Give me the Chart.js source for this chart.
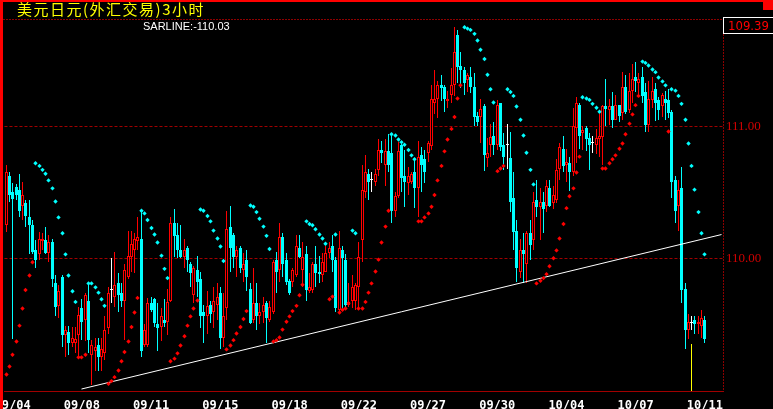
<!DOCTYPE html>
<html>
<head>
<meta charset="utf-8">
<script src="https://cdn.jsdelivr.net/npm/chart.js@4.4.1/dist/chart.umd.min.js"></script>
<style>
  html, body { margin: 0; padding: 0; background: #000; }
  #wrap { position: relative; width: 773px; height: 409px; overflow: hidden; }
  #c { position: absolute; left: 0; top: 0; }
  .lbl { position: absolute; white-space: nowrap; }
  #title { left: 17px; top: 1px; font: 15px/15px "Noto Sans CJK SC"; color: #ffff00; letter-spacing: 1.5px; }
  #sarText { left: 143px; top: 21px; font: 11px/11px "Liberation Sans"; color: #fff; }
  #lastText { left: 728px; top: 19px; font: 13px/13px "Liberation Sans Narrow", "DejaVu Sans Condensed"; color: #ff0000; }
</style>
</head>
<body>
<div id="wrap">
  <canvas id="c" width="773" height="409"></canvas>
  <div class="lbl" id="title">美元日元(外汇交易)3小时</div>
  <div class="lbl" id="sarText"></div>
  <div class="lbl" id="lastText"></div>
</div>
<script>
// tick labels on the time axis and the bar they sit under
const tickDates = ['09/04', '09/08', '09/11', '09/15', '09/18', '09/22', '09/27', '09/30', '10/04', '10/07', '10/11'];
const tickIndex = [2, 23, 44, 65, 86, 107, 128, 149, 170, 191, 212];
const yTicks = [110, 111];
const yMin = 108.995;
const yMax = 111.805;
const slots = 218;

// 3 hour bars, USD/JPY
const open = [
  110.25, 110.62, 110.50, 110.54, 110.52, 110.40, 110.42, 110.31, 110.25, 110.06,
  110.03, 110.13, 110.14, 110.04, 110.12, 109.81, 109.64, 109.86, 109.42, 109.44,
  109.36, 109.36, 109.42, 109.62, 109.53, 109.68, 109.27, 109.30, 109.34, 109.25,
  109.28, 109.47, 109.76, 109.71, 109.81, 109.74, 109.68, 109.86, 110.01, 110.06,
  110.13, 110.15, 109.34, 109.34, 109.66, 109.69, 109.50, 109.48, 109.53, 109.52,
  109.68, 110.27, 110.18, 110.06, 110.01, 110.08, 109.96, 109.72, 109.91, 109.84,
  109.59, 109.56, 109.65, 109.59, 109.65, 109.74, 109.40, 109.62, 110.24, 110.18,
  110.01, 110.08, 109.91, 109.99, 109.77, 109.53, 109.66, 109.56, 109.59, 109.66,
  109.53, 109.59, 109.99, 109.91, 110.16, 109.99, 109.83, 109.82, 109.87, 110.08,
  109.91, 110.03, 109.75, 109.76, 109.96, 109.90, 109.87, 109.90, 110.04, 110.09,
  109.99, 109.61, 110.06, 109.99, 109.65, 109.68, 109.68, 109.78, 110.14, 110.50,
  110.64, 110.59, 110.58, 110.67, 110.82, 110.71, 110.81, 110.80, 110.36, 110.47,
  110.86, 110.62, 110.57, 110.58, 110.65, 110.53, 110.78, 110.75, 110.80, 110.85,
  111.18, 111.21, 111.31, 111.30, 111.19, 111.24, 111.31, 111.69, 111.46, 111.43,
  111.35, 111.37, 111.30, 111.08, 111.07, 111.15, 110.76, 110.86, 110.93, 110.86,
  111.18, 110.86, 110.86, 110.76, 110.46, 110.21, 109.90, 110.06, 109.96, 110.19,
  110.14, 110.44, 110.39, 110.43, 110.40, 110.53, 110.42, 110.44, 110.68, 110.83,
  110.71, 110.72, 110.65, 110.99, 111.16, 110.95, 110.99, 110.91, 110.87, 110.86,
  110.90, 110.92, 111.15, 111.12, 111.15, 111.05, 111.16, 111.10, 111.30, 111.12,
  111.27, 111.37, 111.33, 111.37, 111.26, 111.01, 111.20, 111.28, 111.20, 111.15,
  111.21, 111.20, 111.11, 110.59, 110.40, 110.53, 109.77, 109.46, 109.51, 109.53,
  109.50, 109.49, 109.53
];
const high = [
  110.71, 110.65, 110.57, 110.56, 110.64, 110.58, 110.44, 110.44, 110.29, 110.14,
  110.20, 110.19, 110.24, 110.18, 110.15, 109.87, 109.80, 109.87, 109.49, 109.49,
  109.48, 109.48, 109.63, 109.69, 109.74, 109.82, 109.38, 109.40, 109.40, 109.40,
  109.56, 109.78, 110.00, 110.05, 109.89, 109.81, 109.96, 110.21, 110.21, 110.19,
  110.31, 110.36, 109.50, 109.70, 109.71, 109.70, 109.66, 109.62, 109.69, 109.77,
  110.31, 110.37, 110.27, 110.25, 110.15, 110.09, 109.97, 109.94, 110.02, 109.90,
  109.65, 109.75, 109.68, 109.78, 109.81, 109.78, 109.74, 110.36, 110.40, 110.19,
  110.09, 110.09, 110.04, 110.06, 109.81, 109.93, 109.81, 109.66, 109.71, 109.68,
  109.68, 109.99, 110.05, 110.27, 110.19, 110.04, 109.84, 109.93, 110.18, 110.18,
  110.12, 110.09, 109.89, 109.97, 110.09, 110.02, 110.04, 110.09, 110.12, 110.18,
  110.01, 110.21, 110.09, 110.03, 109.81, 109.87, 109.81, 110.12, 110.71, 110.78,
  110.68, 110.65, 110.68, 110.90, 110.89, 110.90, 110.94, 110.95, 110.50, 110.88,
  110.88, 110.82, 110.69, 110.65, 110.76, 110.89, 110.84, 110.82, 110.89, 111.31,
  111.43, 111.34, 111.39, 111.31, 111.27, 111.44, 111.75, 111.73, 111.56, 111.45,
  111.40, 111.45, 111.40, 111.11, 111.21, 111.17, 110.91, 111.02, 111.03, 111.20,
  111.18, 110.95, 111.02, 110.96, 110.65, 110.29, 110.15, 110.19, 110.21, 110.29,
  110.50, 110.59, 110.53, 110.50, 110.59, 110.59, 110.55, 110.75, 110.87, 110.93,
  110.83, 110.77, 111.14, 111.22, 111.18, 111.00, 111.00, 110.95, 110.93, 110.98,
  111.09, 111.16, 111.36, 111.21, 111.26, 111.24, 111.16, 111.41, 111.39, 111.40,
  111.47, 111.49, 111.40, 111.45, 111.33, 111.34, 111.37, 111.33, 111.22, 111.25,
  111.27, 111.28, 111.12, 110.62, 110.59, 110.69, 109.81, 109.58, 109.56, 109.56,
  109.56, 109.61, 109.56
];
const low = [
  110.20, 110.43, 109.39, 110.44, 110.31, 110.29, 110.24, 110.03, 110.03, 109.93,
  109.99, 110.06, 110.03, 109.97, 109.78, 109.56, 109.55, 109.33, 109.25, 109.27,
  109.33, 109.28, 109.25, 109.38, 109.37, 109.28, 109.04, 109.15, 109.15, 109.15,
  109.23, 109.43, 109.66, 109.63, 109.59, 109.63, 109.38, 109.84, 109.90, 109.89,
  110.06, 109.25, 109.33, 109.33, 109.59, 109.48, 109.30, 109.37, 109.48, 109.42,
  109.67, 110.01, 110.00, 110.00, 109.93, 109.90, 109.78, 109.66, 109.71, 109.47,
  109.36, 109.43, 109.51, 109.47, 109.53, 109.31, 109.33, 109.53, 109.90, 109.93,
  109.86, 109.89, 109.82, 109.75, 109.50, 109.51, 109.46, 109.50, 109.51, 109.36,
  109.52, 109.58, 109.74, 109.82, 109.86, 109.80, 109.72, 109.78, 109.86, 110.00,
  109.78, 109.68, 109.74, 109.74, 109.78, 109.81, 109.82, 109.90, 110.00, 109.90,
  109.59, 109.59, 109.61, 109.63, 109.63, 109.62, 109.61, 109.62, 109.97, 110.46,
  110.44, 110.50, 110.55, 110.62, 110.72, 110.55, 110.65, 110.27, 110.31, 110.46,
  110.50, 110.39, 110.48, 110.56, 110.38, 110.31, 110.50, 110.57, 110.73, 110.82,
  111.09, 111.06, 111.19, 111.11, 111.14, 111.18, 111.23, 111.33, 111.29, 111.24,
  111.26, 111.25, 111.00, 111.00, 110.87, 110.66, 110.69, 110.77, 110.78, 110.82,
  110.81, 110.67, 110.68, 110.35, 110.06, 109.82, 109.85, 109.81, 109.81, 109.99,
  110.06, 110.31, 110.14, 110.19, 110.35, 110.39, 110.37, 110.42, 110.59, 110.65,
  110.58, 110.51, 110.62, 110.72, 110.83, 110.82, 110.81, 110.67, 110.80, 110.79,
  110.77, 110.71, 111.00, 111.01, 110.99, 111.05, 111.03, 111.05, 111.09, 111.10,
  111.18, 111.26, 111.24, 111.18, 110.96, 110.96, 111.14, 111.04, 111.05, 111.07,
  111.05, 111.06, 110.46, 110.27, 110.21, 109.66, 109.31, 109.39, 109.46, 109.43,
  109.43, 109.40, 109.36
];
const close = [
  110.65, 110.48, 110.45, 110.48, 110.36, 110.48, 110.32, 110.25, 110.05, 109.99,
  110.15, 110.15, 110.04, 110.12, 109.84, 109.63, 109.75, 109.42, 109.46, 109.36,
  109.40, 109.39, 109.57, 109.52, 109.72, 109.38, 109.34, 109.33, 109.25, 109.31,
  109.46, 109.74, 109.76, 109.80, 109.72, 109.68, 109.91, 110.02, 110.11, 110.15,
  110.16, 109.30, 109.46, 109.66, 109.61, 109.51, 109.47, 109.56, 109.51, 109.67,
  110.27, 110.17, 110.06, 110.01, 110.06, 109.99, 109.89, 109.93, 109.82, 109.56,
  109.56, 109.64, 109.58, 109.68, 109.71, 109.40, 109.56, 110.22, 110.08, 110.01,
  110.06, 109.93, 109.96, 109.86, 109.51, 109.66, 109.56, 109.59, 109.65, 109.55,
  109.63, 109.97, 109.90, 110.16, 109.96, 109.82, 109.74, 109.91, 110.09, 110.01,
  110.01, 109.76, 109.78, 109.96, 109.89, 109.88, 109.97, 110.04, 110.08, 109.99,
  109.62, 110.08, 110.00, 109.65, 109.67, 109.78, 109.80, 110.01, 110.52, 110.65,
  110.58, 110.59, 110.64, 110.82, 110.80, 110.81, 110.71, 110.36, 110.47, 110.81,
  110.61, 110.58, 110.62, 110.64, 110.53, 110.77, 110.71, 110.65, 110.87, 111.21,
  111.21, 111.31, 111.29, 111.21, 111.21, 111.31, 111.56, 111.45, 111.43, 111.33,
  111.39, 111.30, 111.07, 111.03, 111.13, 110.78, 110.80, 110.92, 110.86, 111.16,
  110.84, 110.77, 110.86, 110.43, 110.20, 109.93, 110.06, 110.03, 110.19, 110.10,
  110.43, 110.39, 110.43, 110.37, 110.55, 110.40, 110.48, 110.67, 110.84, 110.70,
  110.73, 110.65, 111.00, 111.18, 110.93, 110.97, 110.90, 110.86, 110.87, 110.91,
  110.93, 111.15, 111.13, 111.15, 111.05, 111.16, 111.08, 111.30, 111.11, 111.27,
  111.36, 111.34, 111.36, 111.23, 111.01, 111.21, 111.27, 111.18, 111.12, 111.24,
  111.18, 111.10, 110.58, 110.36, 110.52, 109.76, 109.46, 109.52, 109.51, 109.50,
  109.52, 109.55, 109.39
];
// parabolic SAR, one value per bar
const sar = [
  109.12, 109.18, 109.27, 109.37, 109.49, 109.62, 109.76, 109.87, 109.97, 110.72,
  110.70, 110.67, 110.64, 110.59, 110.53, 110.43, 110.31, 110.19, 110.03, 109.87,
  109.75, 109.67, 109.25, 109.25, 109.27, 109.81, 109.81, 109.78, 109.74, 109.69,
  109.64, 109.05, 109.07, 109.10, 109.15, 109.22, 109.29, 109.37, 109.48, 109.59,
  109.70, 110.36, 110.34, 110.29, 110.23, 110.18, 110.12, 110.02, 109.92, 109.85,
  109.22, 109.24, 109.28, 109.34, 109.41, 109.49, 109.56, 109.62, 109.68, 110.37,
  110.36, 110.32, 110.28, 110.21, 110.15, 110.09, 109.98, 109.31, 109.34, 109.38,
  109.43, 109.48, 109.54, 109.60, 110.40, 110.39, 110.35, 110.30, 110.24, 110.17,
  110.07, 109.37, 109.38, 109.40, 109.46, 109.52, 109.56, 109.60, 109.64, 109.72,
  109.80, 110.28, 110.26, 110.25, 110.22, 110.18, 110.15, 110.11, 109.69, 109.71,
  110.18, 109.59, 109.61, 109.62, 109.66, 110.21, 110.19, 109.62, 109.62, 109.67,
  109.74, 109.81, 109.90, 109.99, 110.12, 110.24, 110.36, 110.94, 110.93, 110.90,
  110.88, 110.86, 110.82, 110.78, 110.75, 110.28, 110.28, 110.31, 110.34, 110.39,
  110.48, 110.59, 110.70, 110.81, 110.90, 110.98, 111.07, 111.21, 111.31, 111.75,
  111.74, 111.73, 111.70, 111.65, 111.58, 111.51, 111.39, 111.28, 111.18, 110.66,
  110.68, 110.70, 111.28, 111.26, 111.23, 111.15, 111.05, 110.93, 110.80, 110.67,
  110.56, 109.81, 109.83, 109.85, 109.88, 109.94, 110.00, 110.06, 110.15, 110.26,
  110.38, 110.47, 110.53, 110.65, 110.77, 111.22, 111.21, 111.20, 111.17, 111.14,
  111.11, 110.68, 110.68, 110.72, 110.75, 110.78, 110.83, 110.87, 110.94, 111.02,
  111.09, 111.16, 111.23, 111.49, 111.48, 111.46, 111.43, 111.41, 111.37, 111.34,
  111.31, 110.96, 111.28, 111.27, 111.23, 111.17, 111.05, 110.87, 110.70, 110.52,
  110.35, 110.19, 110.03
];
// support line drawn on the chart
const trendIdx = [23, 217];
const trendVal = [109.01, 110.18];
// yellow cursor line
const markerIdx = 208;
const markerTop = 109.35;

const RED = '#ff0000';
const CYAN = '#00ffff';
const WHITE = '#ffffff';

function candleColors() {
    return close.map((c, i) => {
        if (c > open[i]) return RED;
        if (c < open[i]) return CYAN;
        return WHITE;
    });
}

// put bars and dots on whole pixels so the thin candles stay sharp
const snap = {
    id: 'snap',
    afterDatasetsUpdate(chart) {
        chart.data.datasets.forEach((ds, di) => {
            const meta = chart.getDatasetMeta(di);
            const isBar = meta.type === 'bar';
            meta.data.forEach(el => {
                if (!el || !isFinite(el.x)) return;
                el.x = Math.floor(el.x) + 0.5;
                if (isBar && isFinite(el.y) && isFinite(el.base)) {
                    const up = el.y < el.base;
                    let y = Math.round(el.y);
                    let b = Math.round(el.base);
                    if (Math.abs(b - y) < 1) b = y + 1;
                    el.y = up ? Math.min(y, b) : Math.max(y, b);
                    el.base = up ? Math.max(y, b) : Math.min(y, b);
                    el.height = el.base - el.y;
                }
            });
        });
    }
};

const frame = {
    id: 'frame',
    afterDraw(chart) {
        const ctx = chart.ctx;
        const a = chart.chartArea;
        ctx.save();
        ctx.strokeStyle = '#8c0000';
        ctx.lineWidth = 1;
        ctx.setLineDash([2, 1]);
        ctx.beginPath();
        ctx.moveTo(0, 19.5);
        ctx.lineTo(a.right, 19.5);
        ctx.moveTo(Math.round(a.right) + 0.5, 19);
        ctx.lineTo(Math.round(a.right) + 0.5, a.bottom);
        ctx.stroke();
        ctx.setLineDash([]);
        ctx.fillStyle = RED;
        ctx.fillRect(0, 0, chart.width, 2);
        ctx.fillRect(0, 0, 3, chart.height);
        ctx.fillRect(chart.width - 10, 0, 10, 10);
        ctx.strokeStyle = WHITE;
        ctx.strokeRect(Math.round(a.right) + 0.5, 17.5, 60, 16);
        ctx.restore();
    }
};

function renderChart() {
    const labels = Array.from({ length: slots }, (_, i) => i);
    const colors = candleColors();
    const wicks = low.map((l, i) => [l, high[i]]);
    const bodies = open.map((o, i) => [o, close[i]]);
    const trend = labels.map(i => {
        const k = trendIdx.indexOf(i);
        return k >= 0 ? trendVal[k] : null;
    });
    const marker = labels.map(i => (i === markerIdx ? [yMin, markerTop] : null));
    const sarColors = sar.map((s, i) => (s < close[i] ? RED : CYAN));

    document.getElementById('sarText').textContent = 'SARLINE:-' + sar[sar.length - 1].toFixed(2);
    document.getElementById('lastText').textContent = close[close.length - 1].toFixed(2);

    new Chart(document.getElementById('c'), {
        type: 'bar',
        data: {
            labels: labels,
            datasets: [
                {
                    type: 'line', data: sar, showLine: false,
                    pointStyle: 'rectRot', pointRadius: 2.2, pointHoverRadius: 2.2,
                    pointBackgroundColor: sarColors, pointBorderWidth: 0, order: 0
                },
                {
                    type: 'line', data: trend, spanGaps: true,
                    borderColor: WHITE, borderWidth: 1, pointRadius: 0, order: 1
                },
                {
                    data: bodies,
                    backgroundColor: colors.map(c => (c === RED ? '#000000' : c)),
                    borderColor: colors,
                    borderWidth: colors.map(c => (c === RED ? 1 : 0)),
                    borderSkipped: false, barThickness: 3, minBarLength: 1,
                    grouped: false, inflateAmount: 0, order: 2
                },
                {
                    data: wicks, backgroundColor: colors, barThickness: 1,
                    grouped: false, inflateAmount: 0, order: 3
                },
                {
                    data: marker, backgroundColor: '#ffff00', barThickness: 1,
                    grouped: false, inflateAmount: 0, order: 4
                }
            ]
        },
        options: {
            responsive: false,
            animation: false,
            devicePixelRatio: 1,
            layout: { autoPadding: false, padding: { left: 4.47, top: 20, right: 0, bottom: 0 } },
            plugins: { legend: { display: false }, tooltip: { enabled: false } },
            scales: {
                x: {
                    offset: true,
                    grid: { display: false },
                    border: { display: true, color: '#a00000', width: 1 },
                    afterFit: s => { s.height = 18; },
                    ticks: {
                        autoSkip: false, maxRotation: 0, padding: 0, color: WHITE,
                        font: { family: 'DejaVu Sans Mono', size: 12, weight: 'bold' },
                        callback: (v, i) => {
                            const k = tickIndex.indexOf(i);
                            return k >= 0 ? tickDates[k] : '';
                        }
                    }
                },
                y: {
                    position: 'right',
                    min: yMin,
                    max: yMax,
                    afterBuildTicks: s => { s.ticks = yTicks.map(v => ({ value: v })); },
                    afterFit: s => { s.width = 50; },
                    grid: { color: '#a00000', drawTicks: false },
                    border: { display: false, dash: [3, 2] },
                    ticks: {
                        padding: 3, color: '#d00000',
                        font: { family: 'Liberation Sans Narrow', size: 13 },
                        callback: v => Number(v).toFixed(2)
                    }
                }
            }
        },
        plugins: [snap, frame]
    });
}

renderChart();
</script>
</body>
</html>
